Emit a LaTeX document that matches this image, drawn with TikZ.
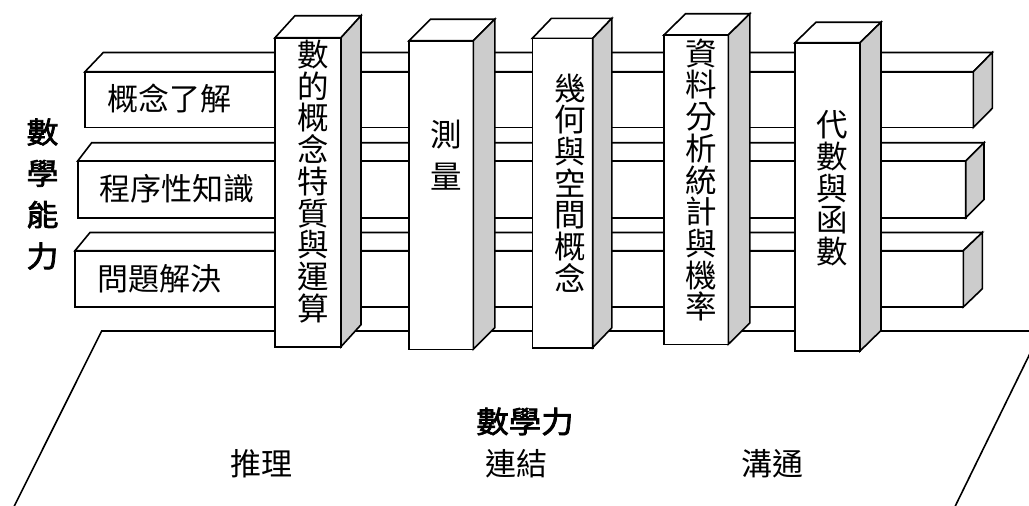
\documentclass[tikz,border=0pt]{standalone}
\usepackage{fontspec}
\newfontfamily\cjk{Noto Sans CJK TC}
\newfontfamily\cjkb{Noto Sans CJK TC}[FakeBold=2.5,FakeStretch=1.08]
\definecolor{shadeg}{RGB}{204,204,204}
\tikzset{
  face/.style={draw=black, line width=1.6pt, line join=miter, fill=white},
  sideface/.style={draw=black, line width=1.6pt, line join=miter, fill=shadeg},
  baseline edge/.style={draw=black, line width=1.6pt, line join=miter},
  hlbl/.style={inner sep=0pt, font=\cjk\fontsize{31}{31.7}\selectfont},
  vlbl/.style={inner sep=0pt, align=center, font=\cjk\fontsize{31.5}{31.7}\selectfont},
  boldlbl/.style={inner sep=0pt, align=center, font=\cjkb\fontsize{29.5}{41.3}\selectfont},
}
% #1 xL, #2 xR, #3 ytop, #4 ybot, #5 back xL, #6 back xR, #7 back y
\newcommand\beam[7]{%
  \draw[face] (#1,#3) -- (#5,#7) -- (#6,#7) -- (#2,#3) -- cycle;
  \draw[face] (#1,#3) rectangle (#2,#4);
  \draw[sideface] (#2,#3) -- (#6,#7) -- (#6,{#4+#7-#3}) -- (#2,#4) -- cycle;
}
% #1 x1, #2 x2, #3 ytop, #4 ybot, #5 dx, #6 dy
\newcommand\pillar[6]{%
  \draw[face] (#1,#3) -- ({#1+#5},{#3+#6}) -- ({#2+#5},{#3+#6}) -- (#2,#3) -- cycle;
  \draw[face] (#1,#3) rectangle (#2,#4);
  \draw[sideface] (#2,#3) -- ({#2+#5},{#3+#6}) -- ({#2+#5},{#4+#6}) -- (#2,#4) -- cycle;
}
\begin{document}
\begin{tikzpicture}[x=1pt,y=-1pt]
\useasboundingbox (0,0) rectangle (1029,506);
\begin{scope}
\clip (0,0) rectangle (1029,506);
% base plane
\fill[white] (13.3,506) -- (101.7,331) -- (1041,331) -- (954.3,506) -- cycle;
\draw[baseline edge] (13.3,508) -- (101.7,331) -- (1041,331) -- (954.3,508);
% horizontal beams
\beam{85}{973.3}{71.7}{127.5}{103.3}{992.3}{52.5}
\beam{77.7}{965.7}{161}{217.7}{91.7}{984}{142.7}
\beam{75}{963.3}{250.7}{307}{90}{982.3}{232.5}
% pillars
\pillar{275}{341}{37.7}{346.7}{20}{-22}
\pillar{409}{473.3}{40.7}{349.3}{21.5}{-21.5}
\pillar{532.3}{592.7}{38.3}{347.7}{19.2}{-20}
\pillar{664}{728.3}{35}{344.3}{21.5}{-21.3}
\pillar{795}{860}{42.7}{351}{21}{-20.5}
\end{scope}
% beam labels
\node[hlbl] (b1) at (169.5,98.5) {概念了解};
\node[hlbl] (b2) at (177,188.5) {程序性知識};
\node[hlbl] (b3) at (159.5,279) {問題解決};
% pillar labels
\node[vlbl] (p1) at (313,181.5) {數\\的\\概\\念\\特\\質\\與\\運\\算};
\node[vlbl, font=\cjk\fontsize{31.5}{42}\selectfont] (p2) at (446.7,155) {測\\量};
\node[vlbl] (p3) at (570,183) {幾\\何\\與\\空\\間\\概\\念};
\node[vlbl] (p4) at (701,180) {資\\料\\分\\析\\統\\計\\與\\機\\率};
\node[vlbl] (p5) at (832.5,188.5) {代\\數\\與\\函\\數};
% side title
\node[boldlbl] (ability) at (42.5,194) {數\\學\\能\\力};
% base labels
\node[inner sep=0pt, font=\cjkb\fontsize{30}{32}\selectfont] (power) at (525,421.5) {數學力};
\node[hlbl] (r1) at (261,463.5) {推理};
\node[hlbl] (r2) at (516,463.5) {連結};
\node[hlbl] (r3) at (772,463.5) {溝通};
\end{tikzpicture}
\end{document}
